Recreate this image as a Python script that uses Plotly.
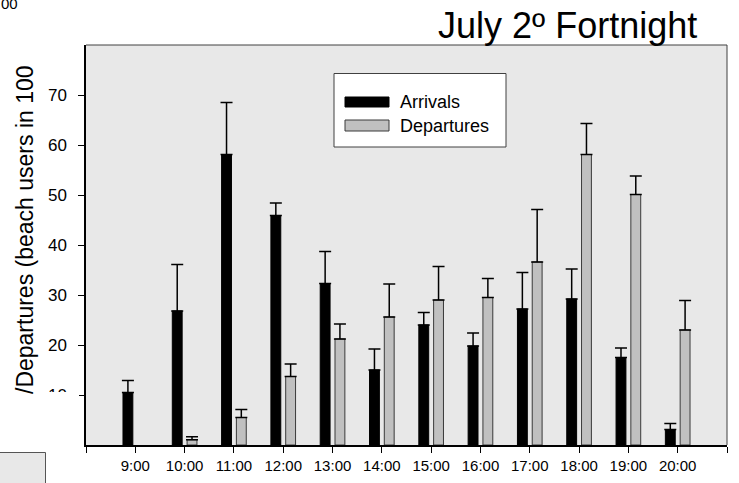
import plotly.graph_objects as go

# Hourly beach-user flows, second fortnight of July (hundreds of users)
hours = ["9:00", "10:00", "11:00", "12:00", "13:00", "14:00",
         "15:00", "16:00", "17:00", "18:00", "19:00", "20:00"]
arrivals = [10.5, 26.8, 58.1, 45.9, 32.3, 15.0, 24.0, 19.8, 27.2, 29.2, 17.5, 3.1]
arrivals_err = [2.4, 9.3, 10.4, 2.5, 6.4, 4.2, 2.5, 2.6, 7.3, 6.0, 1.9, 1.2]
departures = [None, 1.05, 5.5, 13.7, 21.2, 25.6, 29.0, 29.5, 36.6, 58.1, 50.1, 23.0]
departures_err = [None, 0.6, 1.6, 2.5, 3.0, 6.6, 6.7, 3.8, 10.5, 6.2, 3.7, 5.9]

y_ticks = [10, 20, 30, 40, 50, 60, 70]

W, H = 739, 483
ML, MR, MT, MB = 86, 12, 45, 38
PW, PH = W - ML - MR, H - MT - MB


def px(x):
    return (x - ML) / PW


def py(y):
    return (H - MB - y) / PH


positions = list(range(1, len(hours) + 1))

fig = go.Figure()
fig.add_trace(go.Bar(
    x=positions, y=arrivals, name="Arrivals",
    offset=-0.25, width=0.2,
    marker=dict(color="#000000", line=dict(color="#000000", width=1)),
    error_y=dict(type="data", array=arrivals_err, symmetric=False,
                 arrayminus=[0] * len(hours),
                 color="#000000", thickness=1.5, width=6),
))
fig.add_trace(go.Bar(
    x=positions, y=departures, name="Departures",
    offset=0.05, width=0.2,
    marker=dict(color="#c0c0c0", line=dict(color="#3a3a3a", width=1)),
    error_y=dict(type="data", array=departures_err, symmetric=False,
                 arrayminus=[0] * len(hours),
                 color="#000000", thickness=1.5, width=6),
))

fig.update_layout(
    width=W, height=H,
    margin=dict(l=ML, r=MR, t=MT, b=MB, pad=0, autoexpand=False),
    paper_bgcolor="white",
    plot_bgcolor="#e8e8e8",
    barmode="overlay",
    showlegend=False,
    font=dict(family="Liberation Sans, Arial, sans-serif", color="#000000"),
    xaxis=dict(
        range=[0, len(hours) + 1],
        tickvals=list(range(0, len(hours) + 2)),
        ticktext=[""] + hours + [""],
        ticks="outside", ticklen=6, tickwidth=1, tickcolor="#000000",
        tickfont=dict(size=15),
        ticklabelstandoff=0,
        automargin=False,
        showline=True, linecolor="#000000", linewidth=1.5,
        mirror=False, showgrid=False, zeroline=False,
    ),
    yaxis=dict(
        range=[0, 80],
        tickvals=y_ticks,
        ticks="outside", ticklen=6, tickwidth=1, tickcolor="#000000",
        tickfont=dict(size=17),
        ticklabelstandoff=8,
        automargin=False,
        showline=True, linecolor="#000000", linewidth=1.5,
        mirror=False, showgrid=False, zeroline=False,
    ),
)

shapes = []
# thin frame on top and right of the plotting area
shapes.append(dict(type="line", xref="paper", yref="paper", x0=0, x1=1, y0=1, y1=1,
                   line=dict(color="#404040", width=1)))
shapes.append(dict(type="line", xref="paper", yref="paper", x0=1, x1=1, y0=0, y1=1,
                   line=dict(color="#404040", width=1)))
# white panel over the lower left corner
shapes.append(dict(type="rect", xref="paper", yref="paper", layer="above",
                   x0=px(-2), x1=px(79), y0=py(451), y1=py(392),
                   fillcolor="white", line=dict(width=0)))
# grey box in the bottom left corner
shapes.append(dict(type="rect", xref="paper", yref="paper", layer="above",
                   x0=px(-5), x1=px(45.5), y0=py(490), y1=py(452.5),
                   fillcolor="#e8e8e8", line=dict(color="#555555", width=1)))
# legend frame and swatches
shapes.append(dict(type="rect", xref="paper", yref="paper", layer="above",
                   x0=px(334), x1=px(506), y0=py(147), y1=py(73.5),
                   fillcolor="white", line=dict(color="#404040", width=1)))
shapes.append(dict(type="rect", xref="paper", yref="paper", layer="above",
                   x0=px(345), x1=px(389), y0=py(107), y1=py(97),
                   fillcolor="#000000", line=dict(color="#000000", width=1)))
shapes.append(dict(type="rect", xref="paper", yref="paper", layer="above",
                   x0=px(345), x1=px(389), y0=py(131), y1=py(120),
                   fillcolor="#c0c0c0", line=dict(color="#3a3a3a", width=1)))

annotations = [
    dict(text="Arrivals", xref="paper", yref="paper", x=px(398), y=py(102),
         xanchor="left", yanchor="middle", showarrow=False, font=dict(size=18)),
    dict(text="Departures", xref="paper", yref="paper", x=px(398), y=py(125.5),
         xanchor="left", yanchor="middle", showarrow=False, font=dict(size=18)),
    dict(text="July 2º Fortnight", xref="paper", yref="paper", x=px(699), y=py(26),
         xanchor="right", yanchor="middle", showarrow=False, font=dict(size=36)),
    dict(text="/Departures (beach users in 100", xref="paper", yref="paper",
         x=px(25), y=py(230), xanchor="center", yanchor="middle",
         textangle=-90, showarrow=False, font=dict(size=23)),
    dict(text="00", xref="paper", yref="paper", x=px(0), y=py(4),
         xanchor="left", yanchor="middle", showarrow=False, font=dict(size=15),
         borderpad=0),
]

fig.update_layout(shapes=shapes, annotations=annotations)
fig.write_html("out.html")
